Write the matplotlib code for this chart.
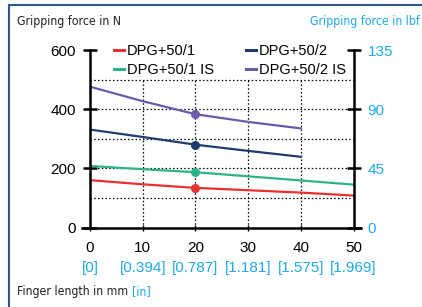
import matplotlib
matplotlib.use("Agg")
import matplotlib.pyplot as plt
from matplotlib.lines import Line2D

plt.rcParams['font.family'] = ['Liberation Sans', 'DejaVu Sans']

x_ticks = [0, 10, 20, 30, 40, 50]
x_inch_labels = ["[0]", "[0.394]", "[0.787]", "[1.181]", "[1.575]", "[1.969]"]
y_ticks = [0, 200, 400, 600]
y_lbf_labels = ["0", "45", "90", "135"]

series_names = ["DPG+50/1", "DPG+50/2", "DPG+50/1 IS", "DPG+50/2 IS"]
x_a = [0, 10, 20, 30, 40, 50]
x_b = [0, 10, 20, 30, 40]
red_vals = [160, 146, 134, 126, 118, 108]
navy_vals = [331, 306, 280, 259, 239]
green_vals = [208, 197, 187, 173, 159, 145]
purple_vals = [476, 427, 383, 357, 335]
marker_x = 20

colors = {"red": "#e8302f", "navy": "#1f3d6b", "green": "#2db38a", "purple": "#6b5ba8"}
cyan = "#1ea9e8"

fig = plt.figure(figsize=(4.22, 3.07), dpi=100)
ax = fig.add_axes([90/422, 1-227.5/307, 263.5/422, 177.5/307])

# grid (dotted), only up to 500
for gx in [10, 20, 30, 40]:
    ax.plot([gx, gx], [0, 500], ls=(0, (1.2, 1.8)), color="black", lw=0.9, zorder=1)
for gy in [100, 200, 300, 400, 500]:
    ax.plot([0, 50], [gy, gy], ls=(0, (1.2, 1.8)), color="black", lw=0.9, zorder=1)

def draw(xs, ys, c, label):
    ax.plot(xs, ys, color=c, lw=1.6, zorder=3, label=label)
    i = xs.index(marker_x)
    ax.plot([marker_x], [ys[i]], 'o', color=c, ms=5.5, zorder=4)

draw(x_a, red_vals, colors["red"], series_names[0])
draw(x_b, navy_vals, colors["navy"], series_names[1])
draw(x_a, green_vals, colors["green"], series_names[2])
draw(x_b, purple_vals, colors["purple"], series_names[3])

ax.set_xlim(0, 50)
ax.set_ylim(0, 600)
for s in ["top", "right"]:
    ax.spines[s].set_visible(False)
ax.spines["left"].set_linewidth(1.8)
ax.spines["bottom"].set_linewidth(1.8)
ax.spines["left"].set_bounds(0, 600)
ax.spines["bottom"].set_bounds(-1.5, 51.5)
ax.spines["left"].set_zorder(5)
ax.spines["bottom"].set_zorder(5)

ax.set_xticks(x_ticks)
ax.set_xticklabels([str(t) for t in x_ticks], fontsize=11)
ax.set_yticks(y_ticks)
ax.set_yticklabels([str(t) for t in y_ticks], fontsize=11)
ax.tick_params(axis="y", direction="inout", length=10, width=1.8, pad=5)
ax.tick_params(axis="x", direction="inout", length=5, width=1.0, pad=7)

# right axis
ax2 = ax.twinx()
ax2.set_ylim(0, 600)
for s in ["top", "left", "bottom"]:
    ax2.spines[s].set_visible(False)
ax2.spines["right"].set_linewidth(1.8)
ax2.spines["right"].set_bounds(0, 600)
ax2.set_yticks(y_ticks)
ax2.set_yticklabels(y_lbf_labels, fontsize=11, color=cyan)
ax2.tick_params(axis="y", direction="inout", length=10, width=1.8, pad=5)

# inch labels under x ticks
for xt, lab in zip(x_ticks, x_inch_labels):
    ax.annotate(lab, xy=(xt, 0), xycoords=("data", "axes fraction"),
                xytext=(0, -34.5), textcoords="offset points",
                ha="center", va="bottom", fontsize=11, color=cyan)

# legend (column-wise fill: col1 = /1, /1 IS ; col2 = /2, /2 IS)
order = [0, 2, 1, 3]
ckeys = ["red", "navy", "green", "purple"]
handles = [Line2D([0], [0], color=colors[ckeys[i]], lw=2.2) for i in order]
labels = [series_names[i] for i in order]
leg = ax.legend(handles, labels, ncol=2, loc="upper left", bbox_to_anchor=(0.068, 1.065),
                frameon=False, fontsize=10.5, handlelength=0.7, handletextpad=0.2,
                columnspacing=2.2, labelspacing=0.35, borderaxespad=0)

narrow = dict(family=['DejaVu Sans'], stretch='condensed')
fs = 8.8
fig.text(17/422, 1-21/307, "Gripping force in N", fontsize=fs, color="#222222",
         va="center", ha="left", **narrow)
fig.text(420/422, 1-21/307, "Gripping force in lbf", fontsize=fs, color=cyan,
         va="center", ha="right", **narrow)
t1 = fig.text(17/422, 1-292/307, "Finger length in mm ", fontsize=fs,
              color="#222222", va="center", ha="left", **narrow)
fig.canvas.draw()
bb = t1.get_window_extent()
fig.text(bb.x1/fig.bbox.width, 1-292/307, "[in]", fontsize=fs, color=cyan,
         va="center", ha="left", **narrow)

# frame lines
border = "#2c5a8c"
fig.add_artist(Line2D([9/422, 9/422], [0, 1-5/307], transform=fig.transFigure, color=border, lw=1.5))
fig.add_artist(Line2D([9/422, 1], [1-5/307, 1-5/307], transform=fig.transFigure, color=border, lw=1.5))

fig.savefig("out.png", dpi=100)
